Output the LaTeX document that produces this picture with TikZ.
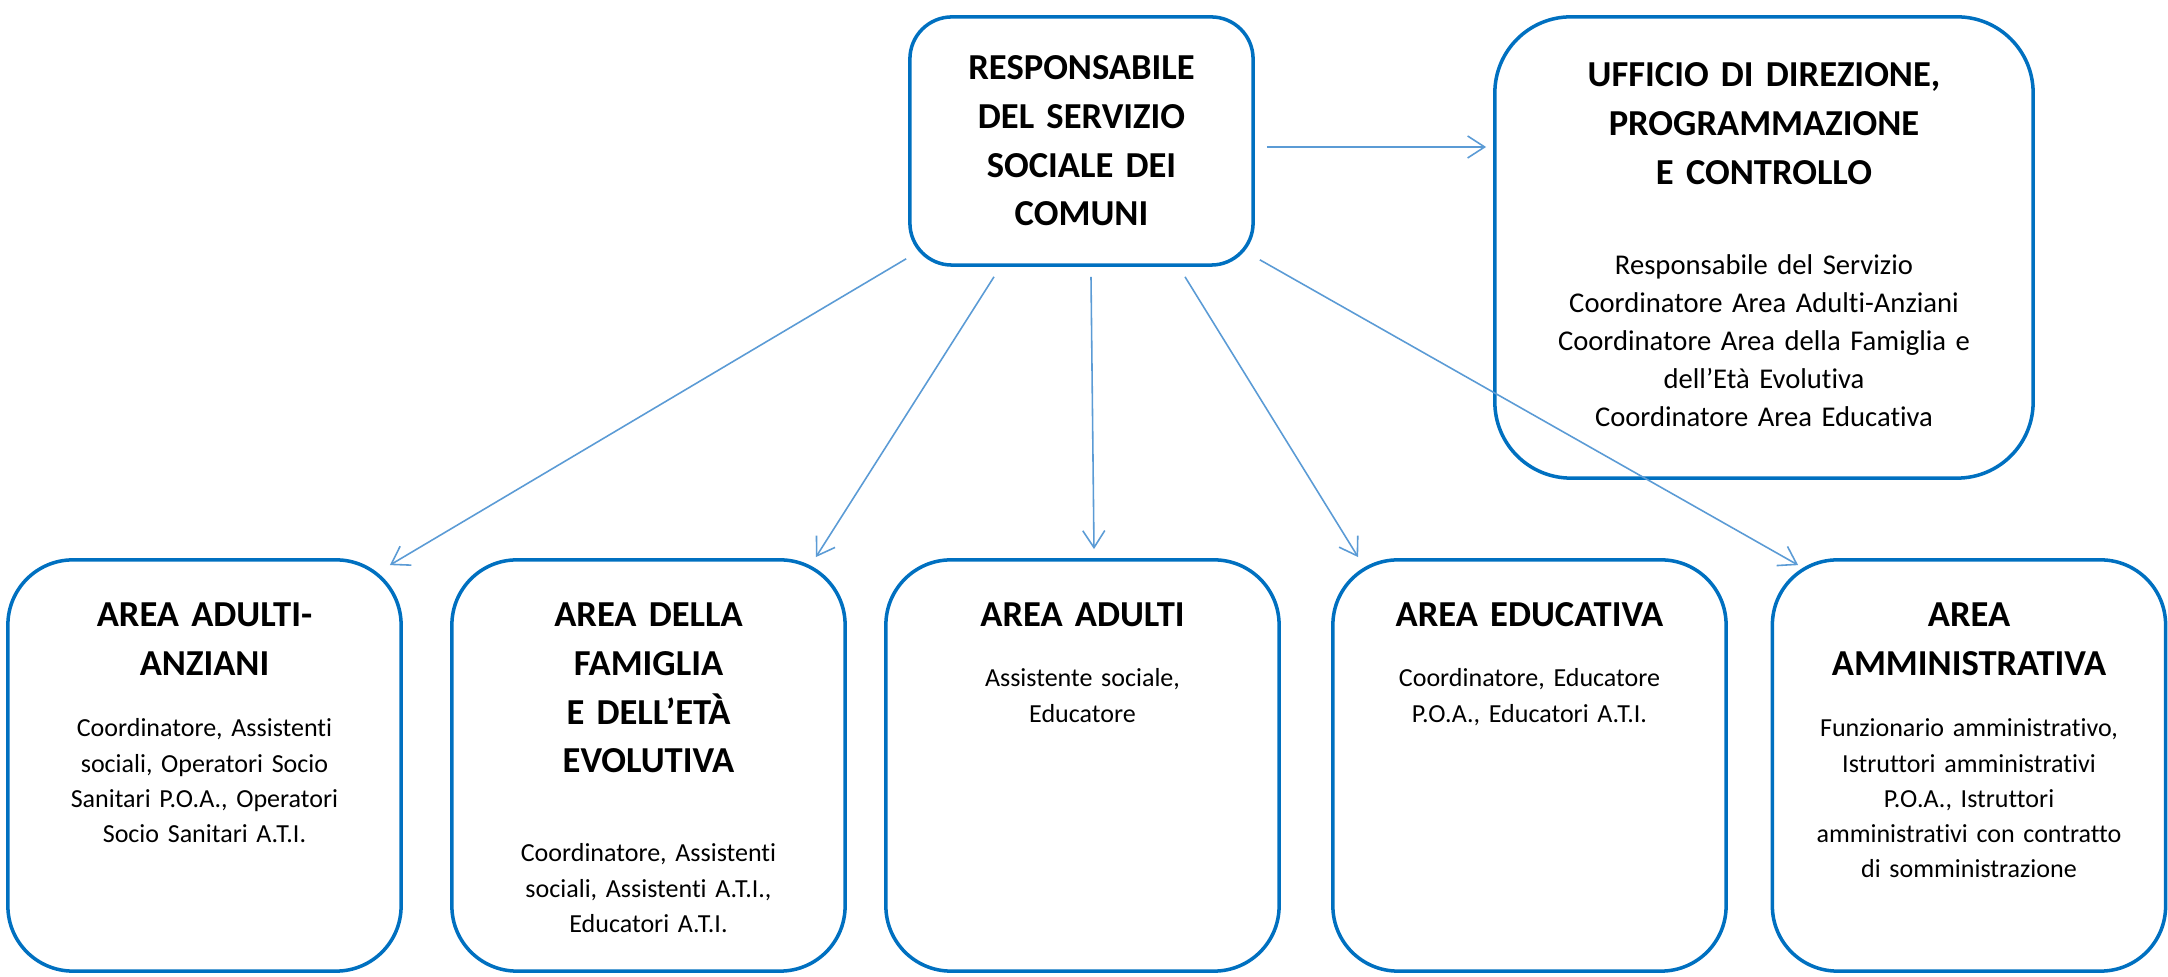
\documentclass[tikz,border=0pt]{standalone}
\usepackage{fontspec}
\setmainfont{Carlito}[Ligatures={NoCommon,NoContextual}]
\usetikzlibrary{calc,arrows.meta}
\definecolor{boxblue}{HTML}{0070C0}
\definecolor{linkblue}{HTML}{5B9BD5}
\tikzset{area/.style={draw=boxblue,line width=1pt,rounded corners=0.65cm,minimum width=3.93cm,minimum height=4.11cm}}
\tikzset{title/.style={font=\bfseries\fontsize{10.4}{13.8}\selectfont,align=center,anchor=base,text width=5cm,inner sep=0pt}}
\tikzset{body/.style={font=\fontsize{7.4}{9.96}\selectfont,align=center,anchor=base,text width=5cm,inner sep=0pt}}
\tikzset{link/.style={draw=linkblue,line width=0.45pt,-{Straight Barb[length=1.7mm,width=2.2mm]}}}

\begin{document}
\begin{tikzpicture}[x=0.01cm,y=-0.01cm]
  \useasboundingbox (0,0) rectangle (2168,977);
  % boxes
  \node[area,minimum width=3.43cm,minimum height=2.48cm,rounded corners=0.42cm] (top) at (1081.5,141) {};
  \node[area,minimum width=5.38cm,minimum height=4.61cm,rounded corners=0.76cm] (uff) at (1764,247.5) {};
  \node[area] (aa) at (204.5,765.5) {};
  \node[area] (fam) at (648.5,765.5) {};
  \node[area] (adu) at (1082.5,765.5) {};
  \node[area] (edu) at (1529.5,765.5) {};
  \node[area] (amm) at (1969,765.5) {};

  \node[title] (topT) at (1081.5,80) {RESPONSABILE\\DEL SERVIZIO\\SOCIALE DEI\\COMUNI};
  \node[title] (uffT) at (1764,87) {UFFICIO DI DIREZIONE,\\PROGRAMMAZIONE\\E CONTROLLO};
  \node[body,font=\fontsize{8.14}{10.8}\selectfont] (uffB) at (1764,275)
    {Responsabile del Servizio\\Coordinatore Area Adulti-Anziani\\Coordinatore Area della Famiglia e\\dell’Età Evolutiva\\Coordinatore Area Educativa};

  \node[title] (aaT) at (204.5,627) {AREA ADULTI-\\ANZIANI};
  \node[body] (aaB) at (204.5,737) {Coordinatore, Assistenti\\sociali, Operatori Socio\\Sanitari P.O.A., Operatori\\Socio Sanitari A.T.I.};
  \node[title] (famT) at (648.5,627) {AREA DELLA\\FAMIGLIA\\E DELL’ETÀ\\EVOLUTIVA};
  \node[body] (famB) at (648.5,862) {Coordinatore, Assistenti\\sociali, Assistenti A.T.I.,\\Educatori A.T.I.};
  \node[title] (aduT) at (1082.5,627) {AREA ADULTI};
  \node[body] (aduB) at (1082.5,687) {Assistente sociale,\\Educatore};
  \node[title] (eduT) at (1529.5,627) {AREA EDUCATIVA};
  \node[body] (eduB) at (1529.5,687) {Coordinatore, Educatore\\P.O.A., Educatori A.T.I.};
  \node[title] (ammT) at (1969,627) {AREA\\AMMINISTRATIVA};
  \node[body] (ammB) at (1969,737) {Funzionario amministrativo,\\Istruttori amministrativi\\P.O.A., Istruttori\\amministrativi con contratto\\di somministrazione};

  % arrows
  \draw[link] ($(top.east)+(12,6)$) -- ($(uff.west)+(-7,-100.5)$);
  \draw[link] ($(top.south west)+(-2,-8)$) -- ($(aa.north east)+(-13,7)$);
  \draw[link] ($(top.south)+(-87.5,10)$) -- ($(fam.north east)+(-31,-1)$);
  \draw[link] ($(top.south)+(9.5,10)$) -- ($(adu.north)+(11.5,-9)$);
  \draw[link] ($(top.south)+(103.5,10)$) -- ($(edu.north west)+(27,-1)$);
  \draw[link] ($(top.south east)+(5,-7)$) -- ($(amm.north west)+(27.5,7)$);
\end{tikzpicture}
\end{document}
